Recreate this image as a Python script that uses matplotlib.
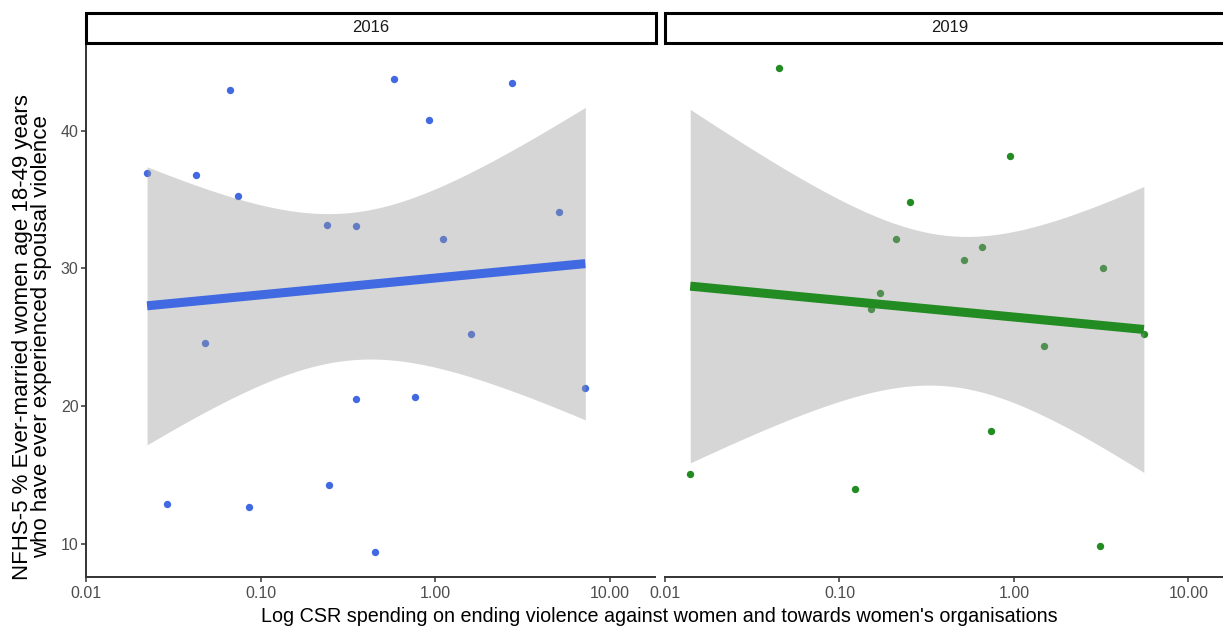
import numpy as np
import matplotlib
matplotlib.use("Agg")
import matplotlib.pyplot as plt
from matplotlib.patches import Rectangle

plt.rcParams['font.family'] = ['Liberation Sans', 'DejaVu Sans']

# ---- data ----
years = ["2016", "2019"]
csr_2016 = [0.0223, 0.0428, 0.0668, 0.0743, 0.241, 0.35, 0.577, 0.916, 1.11, 2.77,
            5.15, 0.0476, 1.596, 7.24, 0.35, 0.767, 0.0290, 0.0859, 0.245, 0.45]
ipv_2016 = [36.9, 36.8, 42.97, 35.24, 33.18, 33.08, 43.74, 40.79, 32.12, 43.45,
            34.08, 24.58, 25.25, 21.33, 20.56, 20.66, 12.92, 12.73, 14.3, 9.42]
csr_2019 = [0.045, 0.947, 0.254, 0.212, 0.653, 0.518, 3.23, 0.171, 0.151, 1.49,
            0.742, 0.01395, 0.122, 3.13, 5.55]
ipv_2019 = [44.52, 38.18, 34.84, 32.12, 31.54, 30.64, 30.06, 28.2, 27.04, 24.38,
            18.22, 15.1, 14.0, 9.9, 25.27]
colors = ["#4169E1", "#228B22"]
x_ticks = [0.01, 0.1, 1, 10]
x_tick_labels = ["0.01", "0.10", "1.00", "10.00"]
y_ticks = [10, 20, 30, 40]
# two-sided 95% t quantiles for df = n - 2
t975 = {18: 2.100922, 13: 2.160369}

W, H = 1223, 627
fig = plt.figure(figsize=(W / 100, H / 100), dpi=100)

def fx(px):
    return px / W

def fy(py):
    return 1 - py / H

panel_top, panel_bot = 43, 576.7
panel_w = 568.5
lefts = [86.3, 665.0]
xlim = (10 ** -2, 10 ** 1.258)
ylim = (7.65, 46.35)
axis_col = "#333333"

datasets = [(csr_2016, ipv_2016), (csr_2019, ipv_2019)]
for i, (xs, ys) in enumerate(datasets):
    left = lefts[i]
    ax = fig.add_axes([fx(left), fy(panel_bot), panel_w / W, (panel_bot - panel_top) / H])
    ax.set_xscale('log')
    ax.set_xlim(*xlim)
    ax.set_ylim(*ylim)
    x = np.array(xs)
    y = np.array(ys)
    lx = np.log10(x)
    n = len(x)
    # points
    ax.scatter(x, y, s=28, color=colors[i], linewidths=0, zorder=2)
    # linear fit on log10 scale
    b, a = np.polyfit(lx, y, 1)
    resid = y - (a + b * lx)
    s = np.sqrt(np.sum(resid ** 2) / (n - 2))
    xbar = lx.mean()
    sxx = np.sum((lx - xbar) ** 2)
    grid = np.linspace(lx.min(), lx.max(), 200)
    fit = a + b * grid
    se = s * np.sqrt(1 / n + (grid - xbar) ** 2 / sxx)
    tq = t975[n - 2]
    ax.fill_between(10 ** grid, fit - tq * se, fit + tq * se, color="#999999",
                    alpha=0.4, linewidth=0, zorder=3)
    ax.plot(10 ** grid, fit, color=colors[i], linewidth=6.5, solid_capstyle='butt',
            zorder=4)

    for sp in ['top', 'right']:
        ax.spines[sp].set_visible(False)
    ax.spines['bottom'].set_color(axis_col)
    ax.spines['bottom'].set_linewidth(1.4)
    ax.set_xticks(x_ticks)
    ax.set_xticklabels(x_tick_labels)
    ax.xaxis.set_minor_locator(matplotlib.ticker.NullLocator())
    ax.tick_params(axis='x', length=3.5, width=1.1, color=axis_col,
                   labelcolor="#4D4D4D", labelsize=11.5, pad=3)
    if i == 0:
        ax.spines['left'].set_color(axis_col)
        ax.spines['left'].set_linewidth(1.4)
        ax.set_yticks(y_ticks)
        ax.tick_params(axis='y', length=3.5, width=1.1, color=axis_col,
                       labelcolor="#4D4D4D", labelsize=11.5, pad=2)
    else:
        ax.spines['left'].set_visible(False)
        ax.set_yticks([])
    ax.patch.set_alpha(0)

    # strip
    sax = fig.add_axes([fx(left), fy(43), (panel_w + 1) / W, 30 / H])
    sax.set_xlim(0, 1)
    sax.set_ylim(0, 1)
    sax.axis('off')
    sax.add_patch(Rectangle((0, 0), 1, 1, facecolor='white', edgecolor='black',
                            linewidth=2.2, transform=sax.transAxes, clip_on=False))
    sax.text(0.5, 0.5, years[i], ha='center', va='center', fontsize=12,
             color="#1A1A1A")

fig.text(fx(32), fy(337), "NFHS-5 % Ever-married women age 18-49 years\n"
         "who have ever experienced spousal violence", rotation=90,
         ha='center', va='center', multialignment='center', fontsize=16,
         linespacing=0.92)

fig.text(fx(659.5), fy(616), "Log CSR spending on ending violence against women and "
         "towards women's organisations", ha='center', va='center', fontsize=14.25)

fig.savefig("out.png", dpi=100)
